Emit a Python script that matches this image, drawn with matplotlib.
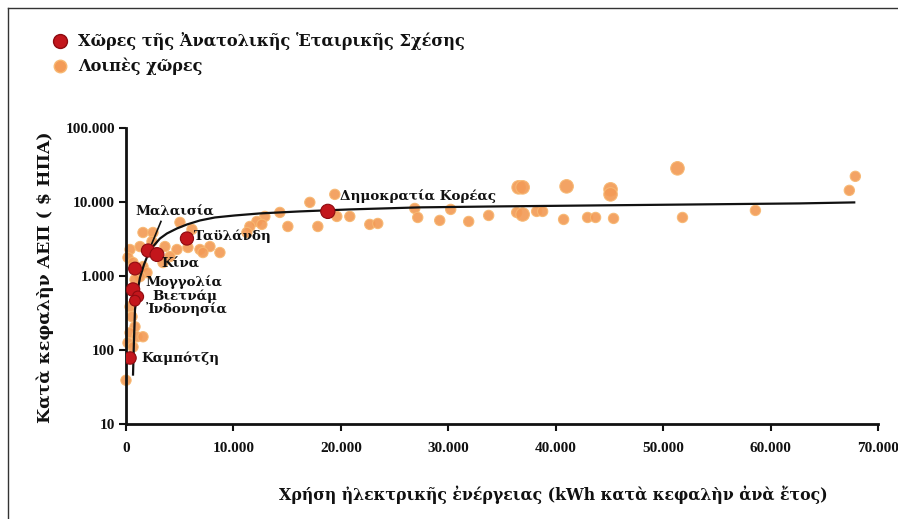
import matplotlib
matplotlib.use("Agg")
import matplotlib.pyplot as plt
from matplotlib.lines import Line2D
from matplotlib.ticker import FixedLocator, NullLocator

plt.rcParams['font.family'] = ['DejaVu Serif', 'DejaVu Sans']

# ---- data ----
# East Asian partnership countries (red)
red_names = ["Καμπότζη", "Μογγολία", "Βιετνάμ", "Ἰνδονησία", "—", "Μαλαισία", "Κίνα", "Ταϋλάνδη", "Δημοκρατία Κορέας"]
red_x = [372, 651, 1116, 837, 837, 2046, 2883, 5673, 18786]
red_y = [78, 655, 526, 464, 1260, 2210, 1950, 3210, 7470]

# Other countries (orange)
other_x = [0, 372, 186, 651, 1302, 1581, 1953, 1302, 372, 558, 837, 372, 1023, 1581, 186, 651,
           1581, 2511, 5022, 6138, 5766, 6882, 7812, 8742, 4743, 4092, 3441, 2418, 3627, 465, 837,
           7161, 12927, 14322, 17112, 19437, 19623, 20832, 22692, 23436, 17856, 15066, 12183,
           11532, 11253, 12648, 26877, 27156, 29202, 30225, 31899, 33759, 36549, 36921, 36363,
           36921, 38223, 38781, 41013, 40734, 42966, 43710, 45105, 45105, 45384, 51336, 51801,
           58590, 67332, 67890]
other_y = [39, 2280, 1775, 1520, 2500, 1340, 1110, 982, 385, 282, 206, 171, 151, 151, 125, 110,
           3870, 3870, 5300, 4260, 2430, 2280, 2500, 2075, 2280, 1830, 1520, 2920, 2500, 655, 893,
           2075, 6380, 7230, 9890, 12680, 6380, 6380, 4980, 5130, 4670, 4670, 5460,
           4670, 3870, 4980, 8180, 6180, 5640, 7940, 5460, 6580, 15780, 15780, 7230,
           6790, 7460, 7460, 16270, 5810, 6180, 6180, 14830, 12680, 6000, 28500, 6180,
           7690, 14360, 22230]
other_big = [36549, 36921, 41013, 45105, 51336]

# fitted trend curve
curve_x = [651, 744, 837, 1023, 1302, 1674, 2046, 2511, 3162, 3813, 4743, 5673, 6882, 8277,
           10137, 12462, 16182, 20832, 27342, 34782, 44082, 53382, 62682, 67890]
curve_y = [45, 137, 351, 560, 951, 1427, 1950, 2500, 3213, 3758, 4390, 4970, 5630, 6180,
           6580, 7010, 7460, 7940, 8460, 8720, 9000, 9280, 9570, 9880]

x_ticks = [0, 10000, 20000, 30000, 40000, 50000, 60000, 70000]
x_ticklabels = ["0", "10.000", "20.000", "30.000", "40.000", "50.000", "60.000", "70.000"]
y_ticks = [10, 100, 1000, 10000, 100000]
y_ticklabels = ["10", "100", "1.000", "10.000", "100.000"]

legend_labels = ["Χῶρες τῆς Ἀνατολικῆς Ἑταιρικῆς Σχέσης", "Λοιπὲς χῶρες"]
xlabel = "Χρήση ἠλεκτρικῆς ἐνέργειας (kWh κατὰ κεφαλὴν ἀνὰ ἔτος)"
ylabel = "Κατὰ κεφαλὴν ΑΕΠ ( $ ΗΠΑ)"

# label positions (text anchors)
annotations = [
    ("Μαλαισία", 837, 7230),
    ("Κίνα", 3255, 1427),
    ("Μογγολία", 1767, 815),
    ("Βιετνάμ", 2418, 526),
    ("Ἰνδονησία", 1860, 361),
    ("Καμπότζη", 1395, 78),
    ("Ταϋλάνδη", 6324, 3420),
    ("Δημοκρατία Κορέας", 19902, 11900),
]

ORANGE = "#F39B57"
ORANGE_EDGE = "#F7B872"
RED = "#C3161C"
RED_EDGE = "#8E0B10"

fig = plt.figure(figsize=(8.98, 5.19), dpi=100)
ax = fig.add_axes([126/898, 1-424/519, (878-126)/898, (424-128)/519])

sizes = [95 if x in other_big else 55 for x in other_x]
ax.scatter(other_x, other_y, s=sizes, c=ORANGE, edgecolors=ORANGE_EDGE, linewidths=0.8,
           alpha=0.92, zorder=2, clip_on=False)
ax.plot(curve_x, curve_y, color="#111111", lw=1.6, zorder=3, solid_capstyle='butt')
ax.scatter(red_x, red_y, s=[80, 95, 65, 60, 85, 90, 100, 90, 105], c=RED, edgecolors=RED_EDGE,
           linewidths=0.8, zorder=4)

# Malaysia leader line
ax.plot([3255, 2139], [5460, 2210], color="#111111", lw=1.2, zorder=3)

for txt, tx, ty in annotations:
    ax.text(tx, ty, txt, fontsize=9.7, fontweight='bold', ha='left', va='center',
            color="#111111", zorder=5)

ax.set_yscale('log')
ax.set_xlim(0, 70000)
ax.set_ylim(10, 100000)
ax.xaxis.set_major_locator(FixedLocator(x_ticks))
ax.set_xticklabels(x_ticklabels)
ax.yaxis.set_major_locator(FixedLocator(y_ticks))
ax.yaxis.set_minor_locator(NullLocator())
ax.set_yticklabels(y_ticklabels)

for lab in ax.get_xticklabels() + ax.get_yticklabels():
    lab.set_fontfamily(['Liberation Serif', 'DejaVu Serif'])
    lab.set_fontweight('bold')
    lab.set_fontsize(11)
    lab.set_color("#111111")

ax.tick_params(axis='both', direction='out', length=5, width=1.5, color="#111111")
ax.tick_params(axis='x', pad=8)
ax.tick_params(axis='y', pad=3)
for side in ['top', 'right']:
    ax.spines[side].set_visible(False)
for side in ['left', 'bottom']:
    ax.spines[side].set_linewidth(2)
    ax.spines[side].set_color("#111111")

fig.text(553/898, 1-495/519, xlabel, fontsize=11.3, fontweight='bold', ha='center', va='center',
         color="#111111")
fig.text(45/898, 1-277/519, ylabel, fontsize=12.5, fontweight='bold', ha='center', va='center',
         rotation=90, color="#111111")

# legend (manual)
fig.add_artist(Line2D([60/898], [1-41/519], marker='o', markersize=10, color=RED,
                      markeredgecolor=RED_EDGE, linestyle='none', transform=fig.transFigure))
fig.add_artist(Line2D([60/898], [1-66/519], marker='o', markersize=9, color=ORANGE,
                      markeredgecolor=ORANGE_EDGE, linestyle='none', transform=fig.transFigure))
fig.text(78/898, 1-41/519, legend_labels[0], fontsize=11.6, fontweight='bold', ha='left',
         va='center', color="#111111")
fig.text(78/898, 1-66/519, legend_labels[1], fontsize=11.6, fontweight='bold', ha='left',
         va='center', color="#111111")

# outer frame (left and top lines)
fig.add_artist(Line2D([8/898, 8/898], [0, 1-8/519], color="#333333", lw=1,
                      transform=fig.transFigure))
fig.add_artist(Line2D([8/898, 1.01], [1-8/519, 1-8/519], color="#333333", lw=1,
                      transform=fig.transFigure))

fig.savefig("out.png", dpi=100)
